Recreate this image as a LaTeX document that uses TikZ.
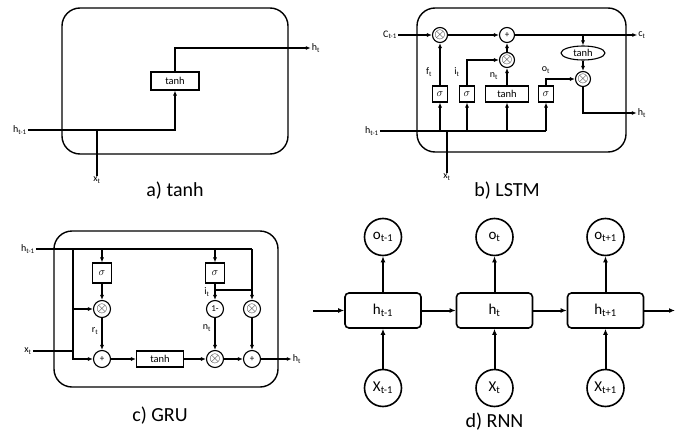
\documentclass[tikz,border=0pt]{standalone}
\usepackage{fontspec}
\setmainfont{Carlito}
\usetikzlibrary{arrows.meta,shapes.geometric,positioning}

\newcommand\otm{{\fontsize{14}{14}\selectfont$\otimes$}}

\tikzset{
  cellframe/.style={draw, line width=1.4pt, rounded corners=18pt},
  box/.style={draw, line width=1.1pt, inner sep=0pt, font=\fontsize{10.5}{12}\selectfont},
  op/.style={draw, circle, line width=1.1pt, minimum size=15pt, inner sep=0pt, font=\fontsize{9}{10}\selectfont},
  lbl/.style={inner sep=1pt, font=\fontsize{10}{11}\selectfont},
  wire/.style={line width=1.2pt},
  arr/.style={wire, -{Latex[length=5pt,width=4pt]}},
  hcell/.style={draw, line width=1.6pt, rounded corners=4pt, minimum width=76pt, minimum height=35pt, font=\fontsize{15}{17}\selectfont},
  io/.style={draw, circle, line width=1.6pt, minimum size=37pt, inner sep=0pt, font=\fontsize{15}{17}\selectfont},
  bigarr/.style={line width=2pt, -{Latex[length=6pt,width=5pt]}},
  captxt/.style={font=\fontsize{20}{24}\selectfont}
}

\begin{document}
\begin{tikzpicture}[x=1pt,y=-1pt]
\useasboundingbox (0,0) rectangle (686,434);

% a) tanh
\node[cellframe, minimum width=226pt, minimum height=146pt] (fa) at (175,81) {};
\node[box, minimum width=48pt, minimum height=18pt] (ta) at (175,81) {tanh};
\node[lbl] (hpa) at (20,130) {h\textsubscript{t-1}};
\node[lbl] (xa) at (97,180) {x\textsubscript{t}};
\node[lbl] (hna) at (316,48) {h\textsubscript{t}};
\node[captxt] (capa) at (175,191) {a) tanh};
\draw[arr] (hpa.east) -| (ta.south);
\draw[wire] (xa.north) -- (xa.north |- hpa);
\draw[arr] (ta.north) |- (hna.west);

% b) LSTM
\node[cellframe, minimum width=209pt, minimum height=144pt] (fb) at (521.5,80) {};
\node[lbl] (cpb) at (390,35) {C\textsubscript{t-1}};
\node[op] (fmul) at (440,35) {\otm};
\node[op] (cadd) at (507,35) {+};
\node[op] (imul) at (507,60) {\otm};
\node[box, ellipse, minimum width=44pt, minimum height=14pt] (ctanh) at (583,53) {tanh};
\node[op] (omul) at (583,79) {\otm};
\node[lbl] (cnb) at (642,35) {c\textsubscript{t}};
\node[lbl] (hnb) at (642,113) {h\textsubscript{t}};
\node[box, minimum width=15pt, minimum height=16pt] (sf) at (440,94) {$\sigma$};
\node[box, minimum width=15pt, minimum height=16pt] (si) at (467,94) {$\sigma$};
\node[box, minimum width=43pt, minimum height=16pt] (tn) at (507,94) {tanh};
\node[box, minimum width=15pt, minimum height=16pt] (so) at (546,94) {$\sigma$};
\node[lbl] (hpb) at (372,131) {h\textsubscript{t-1}};
\node[lbl] (xb) at (447,177) {x\textsubscript{t}};
\node[lbl] at (429,72) {f\textsubscript{t}};
\node[lbl] at (457,72) {i\textsubscript{t}};
\node[lbl] at (494,76) {n\textsubscript{t}};
\node[lbl] at (546,70) {o\textsubscript{t}};
\node[captxt] (capb) at (507,191) {b) LSTM};
\coordinate (hbend) at (546,131);
\draw[arr] (cpb.east) -- (fmul);
\draw[arr] (fmul) -- (cadd);
\draw[arr] (cadd) -- (cnb.west);
\draw[arr] (imul) -- (cadd);
\draw[arr] (ctanh.north |- cadd) -- (ctanh.north);
\draw[arr] (ctanh) -- (omul);
\draw[arr] (omul) |- (hnb.west);
\draw[wire] (hpb.east) -- (hbend);
\foreach \g in {sf,si,tn}
  \draw[arr] (\g.south |- hbend) -- (\g.south);
\draw[arr] (hbend) -- (so.south);
\draw[arr] (sf) -- (fmul);
\draw[arr] (si.north) |- (imul);
\draw[arr] (tn) -- (imul);
\draw[arr] (so.north) |- (omul);
\draw[wire] (xb.north) -- (xb.north |- hbend);

% c) GRU
\node[cellframe, minimum width=224pt, minimum height=156pt] (fc) at (166,309) {};
\node[lbl] (hpc) at (28,249) {h\textsubscript{t-1}};
\node[lbl] (xc) at (28,351) {x\textsubscript{t}};
\coordinate (hc1) at (73,249);
\coordinate (hc2) at (252,249);
\node[box, minimum width=19pt, minimum height=20pt] (sr) at (102,273) {$\sigma$};
\node[box, minimum width=19pt, minimum height=20pt] (sz) at (215,273) {$\sigma$};
\node[op, minimum size=17pt] (rmul) at (102,309) {\otm};
\node[op, minimum size=17pt] (radd) at (102,359) {+};
\node[box, minimum width=47pt, minimum height=16pt] (gtanh) at (160,359) {tanh};
\node[op, minimum size=17pt] (one) at (215,309) {1-};
\node[op, minimum size=17pt] (zmul) at (252,309) {\otm};
\node[op, minimum size=17pt] (nmul) at (215,359) {\otm};
\node[op, minimum size=17pt] (hadd) at (252,359) {+};
\node[lbl] (hnc) at (297,359) {h\textsubscript{t}};
\node[lbl] at (95,331) {r\textsubscript{t}};
\node[lbl] at (207,292) {i\textsubscript{t}};
\node[lbl] at (207,328) {n\textsubscript{t}};
\node[captxt] (capc) at (160,416) {c) GRU};
\coordinate (zb) at (215,290);
\draw[wire] (hpc.east) -- (hc2);
\draw[arr] (hc2) -- (zmul);
\draw[arr] (hc1) |- (radd);
\draw[arr] (hc1 |- rmul) -- (rmul);
\draw[wire] (xc.east) -- (hc1 |- xc);
\draw[arr] (sr.north |- hc1) -- (sr);
\draw[arr] (sz.north |- hc1) -- (sz);
\draw[arr] (sr) -- (rmul);
\draw[arr] (rmul) -- (radd);
\draw[arr] (radd) -- (gtanh);
\draw[arr] (gtanh) -- (nmul);
\draw[arr] (nmul) -- (hadd);
\draw[arr] (hadd) -- (hnc.west);
\draw[arr] (sz) -- (one);
\draw[arr] (one) -- (nmul);
\draw[arr] (zmul) -- (hadd);
\draw[wire] (zb) -- (zb -| hc2);

% d) RNN
\foreach \i/\x/\s in {1/383/t-1, 2/494.5/t, 3/605.5/t+1} {
  \node[hcell] (h\i) at (\x,310.5) {h\textsubscript{\s}};
  \node[io] (o\i) at (\x,237) {o\textsubscript{\s}};
  \node[io] (x\i) at (\x,388) {X\textsubscript{\s}};
  \draw[bigarr] (h\i) -- (o\i);
  \draw[bigarr] (x\i) -- (h\i);
}
\coordinate (din) at (313,310.5);
\coordinate (dout) at (675,310.5);
\node[captxt] (capd) at (494.5,422) {d) RNN};
\draw[bigarr] (din) -- (h1);
\draw[bigarr] (h1) -- (h2);
\draw[bigarr] (h2) -- (h3);
\draw[bigarr] (h3) -- (dout);
\end{tikzpicture}
\end{document}
